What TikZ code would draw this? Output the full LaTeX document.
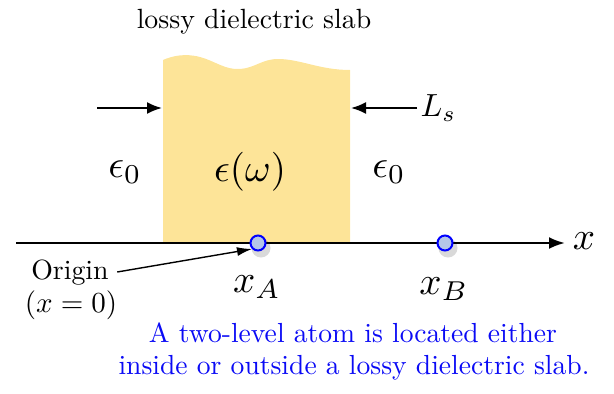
\documentclass[tikz,border=0pt]{standalone}
\usepackage{fontspec}
\usetikzlibrary{arrows.meta}
\definecolor{slabcol}{RGB}{253,228,152}
\definecolor{atomfill}{RGB}{180,198,232}
\definecolor{textblue}{RGB}{10,10,245}
\tikzset{
  bigtext/.style={font=\rmfamily\fontsize{10}{12}\selectfont, scale=2.78, inner sep=0pt},
  mathtext/.style={font=\fontsize{10}{12}\selectfont, scale=3.9, inner sep=0pt},
  smallmath/.style={font=\fontsize{10}{12}\selectfont, scale=2.9, inner sep=0pt},
  labmath/.style={font=\fontsize{10}{12}\selectfont, scale=3.2, inner sep=0pt},
  bluetext/.style={font=\rmfamily\fontsize{10}{12}\selectfont, scale=2.76, text=textblue, inner sep=0pt},
  axisline/.style={line width=2.4pt, -{Latex[length=16pt,width=12pt]}},
  dimarrow/.style={line width=2pt, -{Latex[length=15pt,width=12pt]}},
  ptr/.style={line width=1.4pt, -{Latex[length=15pt,width=9pt]}},
  atom/.style={circle, draw=blue, line width=2pt, fill=atomfill, minimum size=15pt, inner sep=0pt},
  atomshadow/.style={circle, fill=black, opacity=0.15, minimum size=19pt, inner sep=0pt}
}
\begin{document}
\begin{tikzpicture}[x=1pt,y=-1pt]
\useasboundingbox (0,0) rectangle (614,394);
% slab
\fill[slabcol] (163,243) -- (163,60)
  .. controls (172,56) and (185,53) .. (200,57)
  .. controls (215,61) and (225,70) .. (240,69)
  .. controls (255,68) and (262,59) .. (278,59)
  .. controls (300,59) and (320,70) .. (350,70)
  -- (350,243) -- cycle;
% axis
\coordinate (ax0) at (16,243);
\coordinate (ax1) at (565,243);
\draw[axisline] (ax0) -- (ax1);
\node[mathtext, anchor=west] (xlab) at (572,241) {$x$};
% atoms
\node[atomshadow] at (261,248) {};
\node[atomshadow] at (448,248) {};
\node[atom] (A) at (258,243) {};
\node[atom] (B) at (445,243) {};
\node[mathtext] (xA) at (257,287) {$x_A$};
\node[mathtext] (xB) at (444,289) {$x_B$};
% title
\node[bigtext] (title) at (254,22) {lossy dielectric slab};
% dimension arrows
\coordinate (la) at (97,108);
\coordinate (lb) at (162,108);
\coordinate (ra) at (417,108);
\coordinate (rb) at (351,108);
\draw[dimarrow] (la) -- (lb);
\draw[dimarrow] (ra) -- (rb);
\node[labmath, anchor=west] (Ls) at (420,108) {$L_s$};
% permittivities
\node[mathtext] (e0l) at (125,172) {$\epsilon_0$};
\node[mathtext] (eps) at (250,172) {$\epsilon(\omega)$};
\node[mathtext] (e0r) at (389,172) {$\epsilon_0$};
% origin
\node[bigtext] (orig) at (70,273) {Origin};
\node[smallmath] (orig2) at (71,305) {$(x=0)$};
\draw[ptr] (orig.east) ++(8,-1) coordinate (o1) -- (A.south west);
% caption
\node[bluetext] (c1) at (353,333) {A two-level atom is located either};
\node[bluetext] (c2) at (354,368) {inside or outside a lossy dielectric slab.};
\end{tikzpicture}
\end{document}
